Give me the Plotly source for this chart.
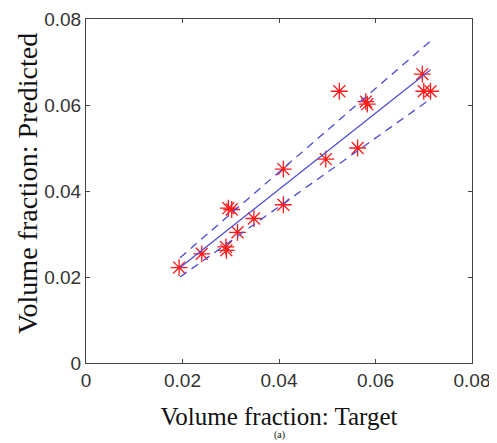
import plotly.graph_objects as go

# Data
target = [0.0193, 0.0240, 0.0290, 0.0291, 0.0295, 0.0302, 0.0314, 0.0348, 0.0409,
          0.0409, 0.0497, 0.0525, 0.0563, 0.0580, 0.0583, 0.0697, 0.0700, 0.0714]
predicted = [0.0222, 0.0254, 0.0270, 0.0262, 0.0360, 0.0357, 0.0304, 0.0336, 0.0368,
             0.0451, 0.0474, 0.0632, 0.0500, 0.0608, 0.0602, 0.0672, 0.0632, 0.0632]

fit_x = [0.0195, 0.0714]
fit_y = [0.0222, 0.0682]
upper_y = [0.0245, 0.0749]
lower_y = [0.0200, 0.0614]

tick_vals = [0, 0.02, 0.04, 0.06, 0.08]
tick_text = ["0", "0.02", "0.04", "0.06", "0.08"]

x_title = "Volume fraction: Target"
y_title = "Volume fraction: Predicted"

line_blue = "#4a4ad6"
serif = "Liberation Serif, Times New Roman"

fig = go.Figure()
fig.add_trace(go.Scatter(
    x=target, y=predicted, mode="markers",
    marker=dict(symbol="asterisk-open", size=14, color="#ff1a1a",
                line=dict(color="#ff1a1a", width=1.3)),
    showlegend=False))
fig.add_trace(go.Scatter(x=fit_x, y=fit_y, mode="lines",
                         line=dict(color=line_blue, width=1.2), showlegend=False))
fig.add_trace(go.Scatter(x=fit_x, y=upper_y, mode="lines",
                         line=dict(color=line_blue, width=1.3, dash="8px,6px"), showlegend=False))
fig.add_trace(go.Scatter(x=fit_x, y=lower_y, mode="lines",
                         line=dict(color=line_blue, width=1.3, dash="8px,6px"), showlegend=False))

axis_common = dict(
    range=[0, 0.08], tickvals=tick_vals, ticktext=tick_text,
    showline=True, mirror="allticks", linecolor="#444444", linewidth=1,
    ticks="inside", ticklen=4, tickcolor="#444444",
    showgrid=False, zeroline=False, automargin=False,
    ticklabeloverflow="allow",
    tickfont=dict(family="Liberation Sans, Arial", size=19, color="#333333"),
)

fig.update_xaxes(**axis_common,
                 title=dict(text=x_title,
                            font=dict(family=serif, size=25, color="#111111"),
                            standoff=17))
fig.update_yaxes(**axis_common)

# y-axis title as a rotated annotation
fig.add_annotation(text=y_title, xref="paper", yref="paper", x=-0.153, y=0.523,
                   xanchor="center", yanchor="middle", textangle=-90, showarrow=False,
                   font=dict(family=serif, size=28, color="#111111"))

fig.add_annotation(text="(a)", xref="paper", yref="paper", x=0.5, y=-0.2325,
                   xanchor="center", yanchor="bottom", showarrow=False,
                   font=dict(family=serif, size=10, color="#111111"))

fig.update_layout(
    width=489, height=435,
    margin=dict(l=78, r=25, t=11, b=80),
    paper_bgcolor="white", plot_bgcolor="white",
)

fig.write_html("out.html")
